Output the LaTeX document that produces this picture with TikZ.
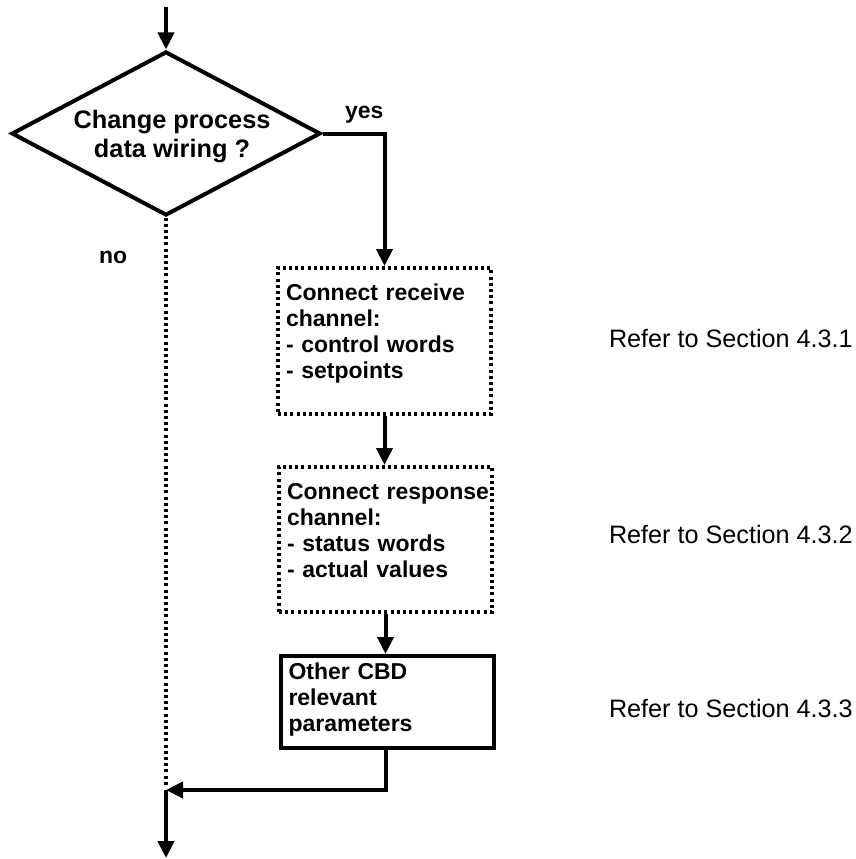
\documentclass[tikz,border=0pt]{standalone}
\usepackage{fontspec}
\setmainfont{Liberation Sans}
\usetikzlibrary{shapes.geometric,arrows.meta}
\begin{document}
\begin{tikzpicture}[x=1pt,y=-1pt,line width=4pt,
  boldtext/.style={font=\fontsize{23}{26}\selectfont\bfseries},
  qtext/.style={font=\fontsize{25.3}{29}\selectfont\bfseries},
  reftext/.style={font=\fontsize{25.2}{29}\selectfont, inner sep=0pt},
  decision/.style={draw, diamond, aspect=1.87, inner sep=0pt,
    minimum width=309pt, minimum height=164pt},
  stepbox/.style={draw, rectangle, boldtext, align=left,
    text width=197pt, inner xsep=8pt, inner ysep=0pt, anchor=north},
  dotbox/.style={stepbox, line width=3.5pt, dash pattern=on 3pt off 3.2pt},
  flow/.style={-{Triangle[length=17pt,width=16pt]}},
  dotline/.style={line width=3.5pt, dash pattern=on 3pt off 3.2pt},
]
\useasboundingbox (0,0) rectangle (855,859);

% decision
\node[decision] (dec) at (166,133.5) {};
\node[qtext, align=center, inner sep=0pt] (dectext) at (172,137)
  {Change process\\data wiring ?};

% process steps
\node[dotbox, text height=33pt, text depth=113pt] (recv) at (384.5,266)
  {Connect receive\\channel:\\- control words\\- setpoints};
\node[dotbox, text height=33pt, text depth=112pt] (resp) at (385.5,465)
  {\mbox{Connect response}\\channel:\\- status words\\- actual values};
\node[stepbox, text height=23pt, text depth=69pt] (other) at (387,654)
  {Other CBD\\relevant\\parameters};

% branch labels
\node[boldtext, anchor=base west, inner sep=0pt] (yes) at (343,118) {yes};
\node[boldtext, anchor=base west, inner sep=0pt] (no) at (97,263) {no};

% references
\node[reftext, anchor=base west] (ref1) at (607,347) {Refer to Section 4.3.1};
\node[reftext, anchor=base west] (ref2) at (607,543) {Refer to Section 4.3.2};
\node[reftext, anchor=base west] (ref3) at (607,717) {Refer to Section 4.3.3};

% connectors
\coordinate (start) at (166,7);
\coordinate (join) at (166,790);
\coordinate (finish) at (166,858);

\draw[flow] (start) -- (dec.north);
\draw[flow] (dec.east) -| (recv.north);
\draw[flow] (recv.south) -- (recv.south |- resp.north);
\draw[flow] (resp.south) -- (resp.south |- other.north);
\draw[flow] (other.south -| resp.south) |- (join);
\draw[dotline] (dec.south) -- ([yshift=3pt]join);
\draw[flow] (join) -- (finish);
\end{tikzpicture}
\end{document}
